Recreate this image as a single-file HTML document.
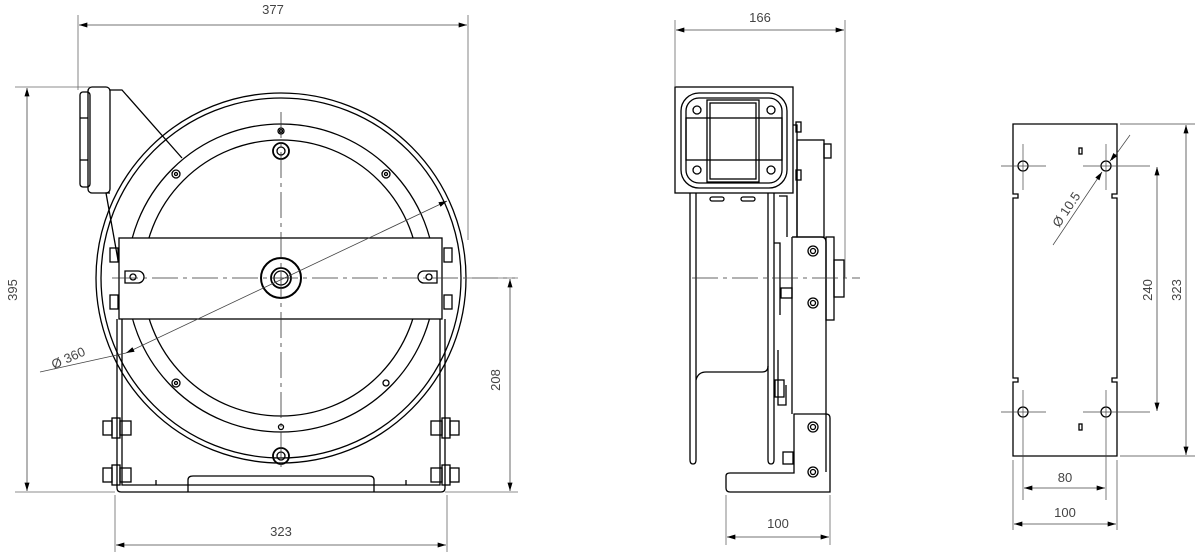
<!DOCTYPE html>
<html><head><meta charset="utf-8"><style>
html,body{margin:0;padding:0;background:#fff;width:1200px;height:560px;overflow:hidden}
svg{display:block}
text{font-family:"Liberation Sans",sans-serif;font-size:13px;fill:#444}
</style></head><body>
<svg width="1200" height="560" viewBox="0 0 1200 560" xmlns="http://www.w3.org/2000/svg">
<defs>
<marker id="a" viewBox="0 0 10 6" refX="10" refY="3" markerWidth="12" markerHeight="5" orient="auto-start-reverse" markerUnits="userSpaceOnUse"><path d="M0,0L10,3L0,6z" fill="#000"/></marker>
</defs>
<g fill="none" stroke="#000" stroke-width="1.3">
<circle cx="281" cy="278" r="185"/>
<circle cx="281" cy="278" r="180"/>
<circle cx="281" cy="278" r="154"/>
<circle cx="281" cy="278" r="138"/>
<rect x="88" y="87" width="22" height="106" rx="4" fill="#fff"/>
<rect x="80" y="92" width="10" height="95" rx="3"/>
<line x1="80" y1="118" x2="88" y2="118"/><line x1="80" y1="160" x2="88" y2="160"/>
<path d="M110,90 L122,90 L182,158" />
<path d="M110,193 L106,193 L118,260"/>
<rect x="119" y="238" width="323" height="81" fill="#fff"/>
<rect x="110" y="248" width="8" height="14"/><rect x="110" y="295" width="8" height="14"/>
<rect x="444" y="248" width="8" height="14"/><rect x="444" y="295" width="8" height="14"/>
<path d="M125,271 h13 a6,6 0 0 1 0,12 h-13z"/><circle cx="133" cy="277" r="3"/>
<path d="M437,271 h-13 a6,6 0 0 0 0,12 h13z"/><circle cx="429" cy="277" r="3"/>
<circle cx="281" cy="278" r="20" stroke-width="2"/>
<circle cx="281" cy="278" r="10" stroke-width="1.8"/>
<circle cx="281" cy="278" r="7"/>
<path d="M117,319 V488 Q117,492 121,492 H441 Q445,492 445,488 V319"/>
<path d="M122,319 V485 H440 V319"/>
<path d="M188,492 V480 Q188,476 193,476 H369 Q374,476 374,480 V492"/>
<line x1="156" y1="485" x2="156" y2="480"/><line x1="406" y1="485" x2="406" y2="480"/>
<g>
<rect x="103" y="421" width="9" height="14"/><rect x="112" y="418" width="8" height="20"/><rect x="120" y="421" width="11" height="14"/>
<rect x="103" y="468" width="9" height="14"/><rect x="112" y="465" width="8" height="20"/><rect x="120" y="468" width="11" height="14"/>
<rect x="450" y="421" width="9" height="14"/><rect x="442" y="418" width="8" height="20"/><rect x="431" y="421" width="11" height="14"/>
<rect x="450" y="468" width="9" height="14"/><rect x="442" y="465" width="8" height="20"/><rect x="431" y="468" width="11" height="14"/>
</g>
<g>
<circle cx="281" cy="131" r="3"/><circle cx="281" cy="131" r="1.5"/>
<circle cx="281" cy="151" r="8" stroke-width="1.8"/><circle cx="281" cy="151" r="4"/>
<circle cx="281" cy="456" r="8" stroke-width="1.8"/><circle cx="281" cy="456" r="4"/>
<circle cx="176" cy="174" r="4"/><circle cx="176" cy="174" r="1.5"/>
<circle cx="386" cy="174" r="4"/><circle cx="386" cy="174" r="1.5"/>
<circle cx="176" cy="383" r="4"/><circle cx="176" cy="383" r="1.5"/>
<circle cx="386" cy="383" r="3"/>
<circle cx="281" cy="427" r="2.5"/>
</g>
</g>
<g stroke="#333" stroke-width="0.8" fill="none">
<line x1="281" y1="112" x2="281" y2="470" stroke-dasharray="26,5,4,5"/>
<line x1="112" y1="278" x2="515" y2="278" stroke-dasharray="26,5,4,5"/>
</g>
<g stroke="#666" stroke-width="0.8" fill="none">
<line x1="78" y1="15" x2="78" y2="90"/><line x1="468" y1="15" x2="468" y2="240"/>
<line x1="15" y1="87" x2="90" y2="87"/><line x1="15" y1="492" x2="115" y2="492"/>
<line x1="445" y1="492" x2="518" y2="492"/><line x1="465" y1="278" x2="518" y2="278"/>
<line x1="115" y1="495" x2="115" y2="552"/><line x1="447" y1="495" x2="447" y2="552"/>
</g>
<g stroke="#444" stroke-width="0.8">
<line x1="79" y1="25" x2="467" y2="25" marker-start="url(#a)" marker-end="url(#a)"/>
<line x1="27" y1="88" x2="27" y2="491" marker-start="url(#a)" marker-end="url(#a)"/>
<line x1="510" y1="279" x2="510" y2="491" marker-start="url(#a)" marker-end="url(#a)"/>
<line x1="116" y1="545" x2="446" y2="545" marker-start="url(#a)" marker-end="url(#a)"/>
<line x1="40" y1="372" x2="126" y2="353"/>
<line x1="126" y1="353" x2="447" y2="201" marker-start="url(#a)" marker-end="url(#a)"/>
</g>
<text x="273" y="14" text-anchor="middle">377</text>
<text transform="translate(17,290) rotate(-90)" text-anchor="middle">395</text>
<text transform="translate(500,380) rotate(-90)" text-anchor="middle">208</text>
<text x="281" y="536" text-anchor="middle">323</text>
<text transform="translate(70,362) rotate(-24)" text-anchor="middle">Ø 360</text>

<g fill="none" stroke="#000" stroke-width="1.3">
<rect x="675" y="87" width="118" height="106"/>
<rect x="681" y="93" width="106" height="95" rx="18"/>
<rect x="686" y="98" width="96" height="85" rx="13"/>
<rect x="707" y="100" width="52" height="82"/>
<rect x="710" y="103" width="46" height="76"/>
<rect x="686" y="118" width="96" height="42"/>
<circle cx="697" cy="110" r="4"/><circle cx="771" cy="110" r="4"/>
<circle cx="697" cy="170" r="4"/><circle cx="771" cy="170" r="4"/>
<rect x="710" y="197" width="14" height="4" rx="2"/><rect x="741" y="197" width="14" height="4" rx="2"/>
<path d="M690,193 V460 Q690,464 693,464 Q696,464 696,460 V193"/>
<path d="M768,193 V460 Q768,464 771,464 Q774,464 774,460 V193"/>
<path d="M696,380 Q698,372 706,372 H762 Q768,372 768,366"/>
<path d="M793,125 H797 V237 H793"/>
<rect x="797" y="140" width="27" height="97"/>
<rect x="824" y="144" width="7" height="14"/>
<rect x="796" y="122" width="5" height="10"/><rect x="796" y="170" width="5" height="10"/>
<path d="M779,196 H787 V237"/>
<path d="M774,243 H780 V315"/>
<path d="M792,237 H821 Q826,237 826,242 V472"/>
<rect x="826" y="237" width="8" height="83"/>
<rect x="834" y="260" width="10" height="37"/>
<circle cx="813" cy="251" r="5"/><circle cx="813" cy="251" r="2.5"/>
<circle cx="813" cy="303" r="5"/><circle cx="813" cy="303" r="2.5"/>
<path d="M792,237 V414"/>
<rect x="781" y="288" width="11" height="10"/>
<path d="M778,350 V405 H786 V385"/>
<rect x="775" y="380" width="9" height="17"/>
<path d="M794,414 H826 Q830,414 830,418 V492 H730 Q726,492 726,488 V476 Q726,473 730,473 H794 Z"/>
<circle cx="813" cy="427" r="5"/><circle cx="813" cy="427" r="2.5"/>
<circle cx="813" cy="472" r="5"/><circle cx="813" cy="472" r="2.5"/>
<rect x="783" y="452" width="10" height="12"/>
</g>
<g stroke="#333" stroke-width="0.8" fill="none">
<line x1="692" y1="278" x2="860" y2="278" stroke-dasharray="26,5,4,5"/>
</g>
<g stroke="#666" stroke-width="0.8" fill="none">
<line x1="675" y1="20" x2="675" y2="87"/><line x1="845" y1="20" x2="845" y2="278"/>
<line x1="726" y1="495" x2="726" y2="545"/><line x1="830" y1="495" x2="830" y2="545"/>
</g>
<g stroke="#444" stroke-width="0.8">
<line x1="676" y1="30" x2="844" y2="30" marker-start="url(#a)" marker-end="url(#a)"/>
<line x1="727" y1="537" x2="829" y2="537" marker-start="url(#a)" marker-end="url(#a)"/>
</g>
<text x="760" y="22" text-anchor="middle">166</text>
<text x="778" y="528" text-anchor="middle">100</text>

<g fill="none" stroke="#000" stroke-width="1.3">
<path d="M1013,124 H1117 V194 H1112 V198 H1117 V378 H1112 V382 H1117 V456 H1013 V382 H1018 V378 H1013 V198 H1018 V194 H1013 Z"/>
<circle cx="1023" cy="166" r="5"/><circle cx="1106" cy="166" r="5"/>
<circle cx="1023" cy="412" r="5"/><circle cx="1106" cy="412" r="5"/>
<rect x="1079" y="148" width="3" height="6"/><rect x="1079" y="424" width="3" height="6"/>
</g>
<g stroke="#444" stroke-width="0.7" fill="none">
<line x1="1001" y1="166" x2="1046" y2="166"/><line x1="1083" y1="166" x2="1150" y2="166"/>
<line x1="1001" y1="412" x2="1046" y2="412"/><line x1="1083" y1="412" x2="1150" y2="412"/>
<line x1="1023" y1="144" x2="1023" y2="190"/><line x1="1106" y1="144" x2="1106" y2="190"/>
<line x1="1023" y1="390" x2="1023" y2="500"/><line x1="1106" y1="390" x2="1106" y2="500"/>
<line x1="1013" y1="460" x2="1013" y2="530"/><line x1="1117" y1="460" x2="1117" y2="530"/>
<line x1="1120" y1="124" x2="1195" y2="124"/><line x1="1120" y1="456" x2="1195" y2="456"/>
<line x1="1053" y1="245" x2="1100" y2="175"/>
<line x1="1130" y1="135" x2="1112" y2="160"/>
</g>
<g stroke="#444" stroke-width="0.8">
<line x1="1100" y1="175" x2="1102" y2="172" marker-end="url(#a)"/>
<line x1="1115" y1="155" x2="1110" y2="161" marker-end="url(#a)"/>
<line x1="1157" y1="167" x2="1157" y2="411" marker-start="url(#a)" marker-end="url(#a)"/>
<line x1="1186" y1="125" x2="1186" y2="455" marker-start="url(#a)" marker-end="url(#a)"/>
<line x1="1024" y1="488" x2="1105" y2="488" marker-start="url(#a)" marker-end="url(#a)"/>
<line x1="1014" y1="524" x2="1116" y2="524" marker-start="url(#a)" marker-end="url(#a)"/>
</g>
<text transform="translate(1070,212) rotate(-56)" text-anchor="middle">Ø 10.5</text>
<text transform="translate(1152,290) rotate(-90)" text-anchor="middle">240</text>
<text transform="translate(1181,290) rotate(-90)" text-anchor="middle">323</text>
<text x="1065" y="482" text-anchor="middle">80</text>
<text x="1065" y="517" text-anchor="middle">100</text>
</svg>
</body></html>
